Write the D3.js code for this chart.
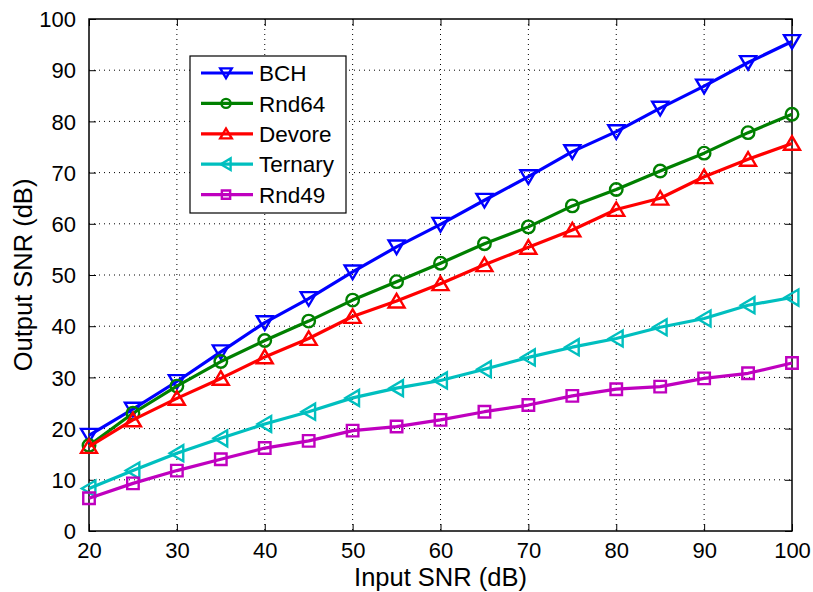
<!DOCTYPE html>
<html><head><meta charset="utf-8">
<script src="https://cdnjs.cloudflare.com/ajax/libs/d3/7.8.5/d3.min.js"></script>
<style>body{margin:0;background:#fff}svg{display:block;font-family:"Liberation Sans",Arial,Helvetica,sans-serif}</style>
</head><body><svg id="c" width="813" height="592"></svg>
<script>
const xValues = [20,25,30,35,40,45,50,55,60,65,70,75,80,85,90,95,100];
const bch     = [18.7,23.8,29.2,35.0,40.7,45.4,50.6,55.5,59.9,64.6,69.2,74.1,78.0,82.6,86.9,91.5,95.6];
const rnd64   = [16.7,23.0,28.3,33.1,37.2,41.0,45.1,48.7,52.3,56.1,59.4,63.5,66.7,70.3,73.8,77.8,81.4];
const devore  = [16.5,21.7,25.9,29.8,34.0,37.6,41.9,44.9,48.3,52.0,55.4,58.8,62.8,65.0,69.2,72.6,75.7];
const ternary = [8.3,11.8,15.2,18.1,20.9,23.3,26.0,27.9,29.4,31.6,33.9,35.9,37.6,39.8,41.5,44.1,45.6];
const rnd49   = [6.4,9.3,11.8,14.0,16.2,17.6,19.6,20.4,21.7,23.3,24.6,26.4,27.7,28.2,29.8,30.8,32.8];
const seriesNames = ["BCH","Rnd64","Devore","Ternary","Rnd49"];
const xTicks = [20,30,40,50,60,70,80,90,100];
const yTicks = [0,10,20,30,40,50,60,70,80,90,100];
const xLabel = "Input SNR (dB)";
const yLabel = "Output SNR (dB)";

const series = [
  {name:"BCH", vals:bch, color:"#0000ff", marker:"down"},
  {name:"Rnd64", vals:rnd64, color:"#008000", marker:"circle"},
  {name:"Devore", vals:devore, color:"#ff0000", marker:"up"},
  {name:"Ternary", vals:ternary, color:"#00bfbf", marker:"left"},
  {name:"Rnd49", vals:rnd49, color:"#bf00bf", marker:"square"}
];

const L=89, R=792, T=19, B=531;
const svg = d3.select("#c");
const x = d3.scaleLinear().domain([20,100]).range([L,R]);
const y = d3.scaleLinear().domain([0,100]).range([B,T]);
const FS = 22, FL = 22.5, FA = 25.5;

// grid
const g = svg.append("g");
g.selectAll(".gx").data(xTicks.slice(1,-1)).enter().append("line")
  .attr("x1",d=>x(d)).attr("x2",d=>x(d)).attr("y1",T).attr("y2",B)
  .attr("stroke","#000").attr("stroke-width",1).attr("stroke-dasharray","1,4");
g.selectAll(".gy").data(yTicks.slice(1,-1)).enter().append("line")
  .attr("y1",d=>y(d)).attr("y2",d=>y(d)).attr("x1",L).attr("x2",R)
  .attr("stroke","#000").attr("stroke-width",1).attr("stroke-dasharray","1,4");

// axes with inward ticks
const tk = 7;
const axB = svg.append("g").attr("transform",`translate(0,${B})`)
  .call(d3.axisBottom(x).tickValues(xTicks).tickSize(-tk).tickPadding(tk+4).tickSizeOuter(0));
const axT = svg.append("g").attr("transform",`translate(0,${T})`)
  .call(d3.axisTop(x).tickValues(xTicks).tickSize(-tk).tickFormat("").tickSizeOuter(0));
const axL = svg.append("g").attr("transform",`translate(${L},0)`)
  .call(d3.axisLeft(y).tickValues(yTicks).tickSize(-tk).tickPadding(tk+6).tickSizeOuter(0));
const axR = svg.append("g").attr("transform",`translate(${R},0)`)
  .call(d3.axisRight(y).tickValues(yTicks).tickSize(-tk).tickFormat("").tickSizeOuter(0));
[axB,axT,axL,axR].forEach(a=>{
  a.selectAll("path").remove();
  a.selectAll("line").attr("stroke","#000").attr("stroke-width",1);
  a.selectAll("text").attr("font-size",FS).attr("fill","#000")
   .attr("font-family","'Liberation Sans',Arial,sans-serif");
});
axB.selectAll("text").attr("dy","0.71em");
axL.selectAll("text").attr("dy","0.35em");

svg.append("rect").attr("x",L).attr("y",T).attr("width",R-L).attr("height",B-T)
  .attr("fill","none").attr("stroke","#000").attr("stroke-width",1.5);

function markerPath(type, s){
  const h = s/2;
  if(type==="down") return `M${-h},${-h*0.8}L${h},${-h*0.8}L0,${h*0.9}Z`;
  if(type==="up") return `M${-h},${h*0.8}L${h},${h*0.8}L0,${-h*0.9}Z`;
  if(type==="left") return `M${h*0.8},${-h}L${h*0.8},${h}L${-h*0.9},0Z`;
  if(type==="square") return `M${-h},${-h}H${h}V${h}H${-h}Z`;
  return null;
}
function drawMarker(sel, type, cx, cy, color, s){
  if(type==="circle"){
    sel.append("circle").attr("cx",cx).attr("cy",cy).attr("r",s/2)
      .attr("fill","none").attr("stroke",color).attr("stroke-width",2.4);
  } else {
    sel.append("path").attr("d",markerPath(type,s)).attr("transform",`translate(${cx},${cy})`)
      .attr("fill","none").attr("stroke",color).attr("stroke-width",2.4).attr("stroke-linejoin","miter");
  }
}
const sizes = {down:16, up:16, left:16, circle:12.5, square:11.5};

const line = d3.line().x((d,i)=>x(xValues[i])).y(d=>y(d));
series.forEach(s=>{
  const gs = svg.append("g");
  gs.append("path").datum(s.vals).attr("d",line).attr("fill","none")
    .attr("stroke",s.color).attr("stroke-width",3.2).attr("stroke-linejoin","round");
  s.vals.forEach((v,i)=>drawMarker(gs, s.marker, x(xValues[i]), y(v), s.color, sizes[s.marker]));
});

// legend
const lg = svg.append("g");
lg.append("rect").attr("x",190).attr("y",56).attr("width",156).attr("height",157)
  .attr("fill","#fff").attr("stroke","#000").attr("stroke-width",1.2);
series.forEach((s,i)=>{
  const yy = 73 + i*30.4;
  lg.append("line").attr("x1",201).attr("x2",253).attr("y1",yy).attr("y2",yy)
    .attr("stroke",s.color).attr("stroke-width",3.2);
  drawMarker(lg, s.marker, 226, yy, s.color, sizes[s.marker]*0.72);
  lg.append("text").attr("x",259).attr("y",yy).attr("dy","0.36em")
    .attr("font-size",FL).attr("fill","#000").text(s.name);
});

// axis labels
svg.append("text").attr("x",(L+R)/2).attr("y",586).attr("text-anchor","middle")
  .attr("font-size",FA).attr("fill","#000").text(xLabel);
svg.append("text").attr("transform",`translate(32,${(T+B)/2}) rotate(-90)`)
  .attr("text-anchor","middle").attr("font-size",FA).attr("fill","#000").text(yLabel);
</script></body></html>
